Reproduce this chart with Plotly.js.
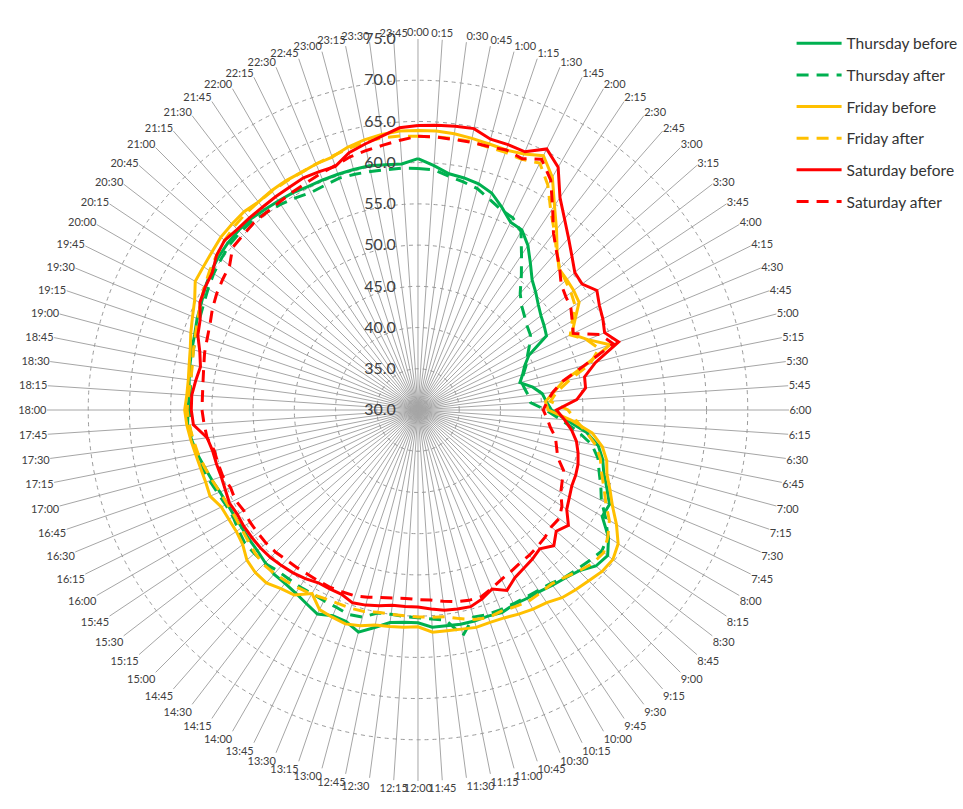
<!DOCTYPE html>
<html>
<head>
<meta charset="utf-8">
<script src="https://cdn.plot.ly/plotly-3.0.1.min.js"></script>
<style>html,body{margin:0;padding:0;background:#fff;}#chart{width:963px;height:809px;}</style>
</head>
<body>
<div id="chart"></div>
<script>
const times = [
"0:00","0:15","0:30","0:45","1:00","1:15","1:30","1:45",
"2:00","2:15","2:30","2:45","3:00","3:15","3:30","3:45",
"4:00","4:15","4:30","4:45","5:00","5:15","5:30","5:45",
"6:00","6:15","6:30","6:45","7:00","7:15","7:30","7:45",
"8:00","8:15","8:30","8:45","9:00","9:15","9:30","9:45",
"10:00","10:15","10:30","10:45","11:00","11:15","11:30","11:45",
"12:00","12:15","12:30","12:45","13:00","13:15","13:30","13:45",
"14:00","14:15","14:30","14:45","15:00","15:15","15:30","15:45",
"16:00","16:15","16:30","16:45","17:00","17:15","17:30","17:45",
"18:00","18:15","18:30","18:45","19:00","19:15","19:30","19:45",
"20:00","20:15","20:30","20:45","21:00","21:15","21:30","21:45",
"22:00","22:15","22:30","22:45","23:00","23:15","23:30","23:45"];

const radialTicks = [30, 35, 40, 45, 50, 55, 60, 65, 70, 75];

const thursdayBefore = [
60.5,59.7,58.9,58.7,58.4,57.8,56.6,55.4,
55.2,54.0,52.4,51.0,50.2,49.4,48.8,48.4,
48.0,45.0,44.0,43.4,42.8,44.2,45.2,45.6,
46.2,48.0,50.6,52.3,53.2,53.8,54.8,55.9,
55.8,57.8,59.0,58.7,57.6,57.1,56.8,56.5,
56.4,56.3,56.6,56.4,56.5,56.5,56.4,56.4,
55.8,55.8,56.0,56.9,57.9,57.1,57.0,57.6,
57.1,56.7,56.5,56.5,56.2,55.9,55.8,55.7,
55.7,55.8,56.0,56.4,56.8,57.3,57.7,58.0,
57.9,57.8,58.0,58.2,58.4,58.6,59.0,59.3,
59.8,60.2,60.5,60.7,60.8,60.8,60.6,60.5,
60.4,60.2,60.2,60.2,60.2,60.2,60.0,59.9];

const thursdayAfter = [
59.3,59.2,58.6,58.2,57.8,57.0,56.3,56.0,
55.0,52.6,50.6,48.8,47.8,47.2,46.7,46.4,
45.6,44.8,44.2,43.5,43.0,43.2,43.5,43.7,
45.5,47.3,49.5,51.5,52.6,53.2,54.0,54.8,
56.3,57.7,58.1,57.7,57.3,57.0,56.5,56.3,
56.2,56.2,56.2,56.2,56.0,57.9,55.7,55.4,
55.2,55.1,55.0,55.1,56.0,56.2,55.9,55.8,
55.7,55.8,55.8,55.9,56.3,56.4,56.5,56.2,
55.9,56.0,56.3,56.7,57.1,57.4,57.6,57.8,
57.7,57.7,57.8,58.0,58.2,58.4,58.7,59.0,
59.4,59.8,60.1,60.4,60.5,60.5,60.2,60.0,
59.7,59.4,59.5,59.7,59.6,59.5,59.4,59.4];

const fridayBefore = [
63.9,63.9,63.8,63.6,63.4,63.3,63.6,64.4,
62.6,59.8,57.6,55.6,54.2,54.0,53.8,53.5,
52.0,50.8,52.3,54.6,51.0,48.0,46.6,45.5,
45.8,48.6,51.3,52.8,53.7,54.2,55.2,56.3,
57.8,59.2,59.8,59.7,59.3,59.0,58.7,58.1,
57.9,57.6,57.3,57.2,57.3,57.1,57.0,57.0,
56.3,56.4,56.5,56.6,57.1,57.4,57.2,57.0,
55.7,57.0,57.3,57.9,57.9,57.6,56.8,56.5,
56.5,56.6,57.3,57.2,57.3,57.5,57.8,58.1,
58.3,58.1,58.1,58.3,58.6,59.1,59.6,60.2,
61.2,61.3,61.5,61.8,61.9,62.0,61.8,62.0,
62.1,62.1,62.3,62.4,63.0,63.4,63.7,63.9];

const fridayAfter = [
63.2,63.2,63.2,63.2,63.0,63.0,62.9,63.4,
61.5,59.0,57.2,55.5,54.3,53.8,53.4,52.9,
51.6,50.6,52.2,53.2,51.6,48.8,47.0,46.1,
48.2,49.2,50.6,52.0,52.9,53.5,54.4,55.4,
56.8,57.7,58.4,58.2,57.6,57.0,56.6,56.7,
56.8,56.6,56.4,56.6,56.3,55.8,55.3,55.2,
55.1,55.0,55.0,55.0,55.3,55.4,55.4,55.5,
55.8,56.0,56.2,56.4,56.5,56.3,56.0,55.8,
55.7,55.8,56.0,56.4,56.8,57.2,57.5,57.8,
58.0,57.9,57.8,57.9,58.2,58.5,58.9,59.4,
59.9,60.4,60.8,61.2,61.5,61.7,61.8,61.9,
62.0,62.1,62.3,62.5,62.8,63.1,63.3,63.3];

const saturdayBefore = [
64.5,64.6,64.7,64.8,64.0,64.0,63.9,65.3,
64.0,61.0,59.2,57.7,56.4,55.3,55.1,56.1,
55.4,55.0,54.5,55.7,52.3,50.6,50.5,49.3,
46.8,47.8,48.8,49.6,50.1,50.5,50.7,50.8,
51.2,51.7,53.0,52.3,53.3,52.4,52.8,53.1,
53.5,54.4,53.5,54.2,54.7,54.6,54.5,54.2,
53.9,53.9,53.9,54.2,54.5,54.7,54.2,54.2,
54.2,54.6,54.9,55.1,55.3,55.4,55.4,55.4,
55.3,55.5,55.3,55.2,55.3,55.4,55.8,57.3,
57.5,57.5,57.2,56.9,57.4,58.2,58.6,59.5,
59.8,60.0,60.8,61.2,61.0,61.0,61.0,61.1,
61.2,61.4,61.3,61.2,62.3,62.9,63.5,64.3];

const saturdayAfter = [
63.2,63.2,63.1,63.1,63.1,63.3,63.0,63.9,
62.2,59.4,57.0,55.5,54.3,53.1,52.6,52.3,
51.6,51.0,53.9,55.0,50.9,47.9,46.5,45.7,
45.2,45.7,46.2,47.0,47.4,47.9,49.1,49.5,
50.0,51.0,51.6,51.5,51.8,52.0,52.2,52.3,
52.6,52.9,53.4,53.9,53.9,53.7,53.4,53.1,
53.0,52.9,53.0,53.2,53.5,53.8,53.9,54.0,
54.0,54.0,54.1,54.2,54.4,54.5,54.5,54.5,
54.4,54.7,54.6,55.0,55.1,55.2,55.8,56.0,
56.2,56.2,56.3,56.5,56.8,57.0,57.3,57.8,
58.2,58.5,58.8,59.9,60.0,60.2,60.2,60.3,
60.5,60.7,61.0,61.3,61.8,62.1,62.4,62.8];

const seriesNames = ["Thursday before","Thursday after","Friday before","Friday after","Saturday before","Saturday after"];
const seriesValues = [thursdayBefore, thursdayAfter, fridayBefore, fridayAfter, saturdayBefore, saturdayAfter];
const colors = ["#00B050","#00B050","#FFC000","#FFC000","#FF0000","#FF0000"];
const dashes = ["solid","12px,8px","solid","12px,8px","solid","12px,8px"];

const traces = seriesValues.map((vals, i) => ({
  type: 'scatterpolar',
  mode: 'lines',
  name: seriesNames[i],
  legendgroup: 'g' + i,
  r: vals.concat([vals[0]]),
  theta: times.concat([times[0]]),
  line: {color: colors[i], width: 3, dash: dashes[i]},
  hoverinfo: 'skip'
}));

const layout = {
  width: 963, height: 809,
  margin: {l: 0, r: 0, t: 0, b: 0},
  paper_bgcolor: '#ffffff',
  showlegend: true,
  legend: {
    x: 0.822, y: 0.967, xanchor: 'left', yanchor: 'top',
    font: {family: 'Lato', size: 15.5, color: '#333333'},
    tracegroupgap: 8.5, itemwidth: 45,
    bgcolor: 'rgba(0,0,0,0)', traceorder: 'grouped'
  },
  polar: {
    domain: {x: [0.0488, 0.8193], y: [0.0346, 0.9518]},
    bgcolor: '#ffffff',
    angularaxis: {
      type: 'category', categoryarray: times,
      direction: 'clockwise', rotation: 90,
      showline: false, ticks: '',
      gridcolor: '#A6A6A6', gridwidth: 1,
      tickfont: {family: 'Lato', size: 11, color: '#404040'}
    },
    radialaxis: {
      range: [30, 75], tickmode: 'array', tickvals: radialTicks, tickformat: '.1f',
      angle: 90, side: 'counterclockwise', tickangle: 90,
      showline: false, ticks: 'outside', ticklen: 16, tickcolor: 'rgba(0,0,0,0)',
      gridcolor: '#9A9A9A', gridwidth: 1, griddash: '4px,4px',
      tickfont: {family: 'Lato', size: 16, color: '#404040'}
    }
  }
};

Plotly.newPlot('chart', traces, layout, {displayModeBar: false, staticPlot: true});
</script>
</body>
</html>
